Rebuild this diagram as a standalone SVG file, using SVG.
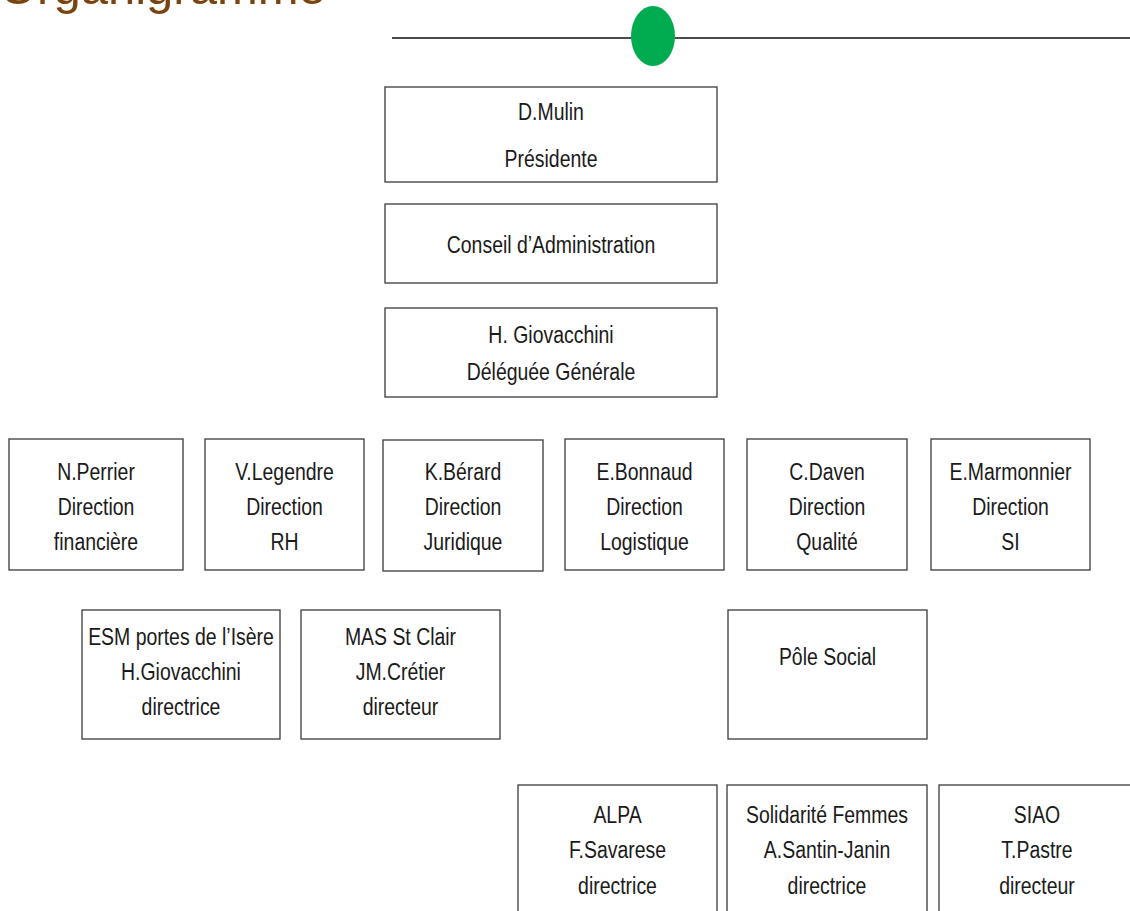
<svg xmlns="http://www.w3.org/2000/svg" width="1130" height="911" viewBox="0 0 1130 911">
<style>
.box{fill:#ffffff;stroke:#3a3a3a;stroke-width:1.3}
.t{font-family:"Liberation Sans",Arial,sans-serif;font-size:24px;fill:#1a1a1a;text-anchor:middle}
.title{font-family:"Liberation Sans",Arial,sans-serif;font-size:49px;fill:#7a4410}
</style>
<rect width="1130" height="911" fill="#ffffff"/>
<text class="title" x="-1" y="4">Organigramme</text>
<line x1="392" y1="38" x2="1130" y2="38" stroke="#111" stroke-width="1.5"/>
<ellipse cx="653" cy="36" rx="22" ry="30" fill="#00ac4f"/>
<g id="connectors"></g>

<g id="n-mulin">
<rect class="box" x="385" y="87" width="332" height="95"/>
<text class="t" transform="translate(551,120) scale(0.81,1)">D.Mulin</text>
<text class="t" transform="translate(551,167) scale(0.81,1)">Présidente</text>
</g>
<g id="n-conseil">
<rect class="box" x="385" y="204" width="332" height="79"/>
<text class="t" transform="translate(551,253) scale(0.81,1)">Conseil d’Administration</text>
</g>
<g id="n-giovacchini">
<rect class="box" x="385" y="308" width="332" height="89"/>
<text class="t" transform="translate(551,343) scale(0.81,1)">H. Giovacchini</text>
<text class="t" transform="translate(551,380) scale(0.81,1)">Déléguée Générale</text>
</g>

<g id="n-perrier">
<rect class="box" x="9" y="439" width="174" height="131"/>
<text class="t" transform="translate(96,480) scale(0.81,1)">N.Perrier</text>
<text class="t" transform="translate(96,515) scale(0.81,1)">Direction</text>
<text class="t" transform="translate(96,550) scale(0.81,1)">financière</text>
</g>
<g id="n-legendre">
<rect class="box" x="205" y="439" width="159" height="131"/>
<text class="t" transform="translate(284.5,480) scale(0.81,1)">V.Legendre</text>
<text class="t" transform="translate(284.5,515) scale(0.81,1)">Direction</text>
<text class="t" transform="translate(284.5,550) scale(0.81,1)">RH</text>
</g>
<g id="n-berard">
<rect class="box" x="383" y="440" width="160" height="131"/>
<text class="t" transform="translate(463,480) scale(0.81,1)">K.Bérard</text>
<text class="t" transform="translate(463,515) scale(0.81,1)">Direction</text>
<text class="t" transform="translate(463,550) scale(0.81,1)">Juridique</text>
</g>
<g id="n-bonnaud">
<rect class="box" x="565" y="439" width="159" height="131"/>
<text class="t" transform="translate(644.5,480) scale(0.81,1)">E.Bonnaud</text>
<text class="t" transform="translate(644.5,515) scale(0.81,1)">Direction</text>
<text class="t" transform="translate(644.5,550) scale(0.81,1)">Logistique</text>
</g>
<g id="n-daven">
<rect class="box" x="747" y="439" width="160" height="131"/>
<text class="t" transform="translate(827,480) scale(0.81,1)">C.Daven</text>
<text class="t" transform="translate(827,515) scale(0.81,1)">Direction</text>
<text class="t" transform="translate(827,550) scale(0.81,1)">Qualité</text>
</g>
<g id="n-marmonnier">
<rect class="box" x="931" y="439" width="159" height="131"/>
<text class="t" transform="translate(1010.5,480) scale(0.81,1)">E.Marmonnier</text>
<text class="t" transform="translate(1010.5,515) scale(0.81,1)">Direction</text>
<text class="t" transform="translate(1010.5,550) scale(0.81,1)">SI</text>
</g>

<g id="n-esm">
<rect class="box" x="82" y="610" width="198" height="129"/>
<text class="t" transform="translate(181,645) scale(0.81,1)">ESM portes de l’Isère</text>
<text class="t" transform="translate(181,680) scale(0.81,1)">H.Giovacchini</text>
<text class="t" transform="translate(181,715) scale(0.81,1)">directrice</text>
</g>
<g id="n-mas">
<rect class="box" x="301" y="610" width="199" height="129"/>
<text class="t" transform="translate(400.5,645) scale(0.81,1)">MAS St Clair</text>
<text class="t" transform="translate(400.5,680) scale(0.81,1)">JM.Crétier</text>
<text class="t" transform="translate(400.5,715) scale(0.81,1)">directeur</text>
</g>
<g id="n-pole">
<rect class="box" x="728" y="610" width="199" height="129"/>
<text class="t" transform="translate(827.5,665) scale(0.81,1)">Pôle Social</text>
</g>

<g id="n-alpa">
<rect class="box" x="518" y="785" width="199" height="140"/>
<text class="t" transform="translate(617.5,823) scale(0.81,1)">ALPA</text>
<text class="t" transform="translate(617.5,858) scale(0.81,1)">F.Savarese</text>
<text class="t" transform="translate(617.5,894) scale(0.81,1)">directrice</text>
</g>
<g id="n-solidarite">
<rect class="box" x="727" y="785" width="200" height="140"/>
<text class="t" transform="translate(827,823) scale(0.81,1)">Solidarité Femmes</text>
<text class="t" transform="translate(827,858) scale(0.81,1)">A.Santin-Janin</text>
<text class="t" transform="translate(827,894) scale(0.81,1)">directrice</text>
</g>
<g id="n-siao">
<rect class="box" x="939" y="785" width="199" height="140"/>
<text class="t" transform="translate(1037,823) scale(0.81,1)">SIAO</text>
<text class="t" transform="translate(1037,858) scale(0.81,1)">T.Pastre</text>
<text class="t" transform="translate(1037,894) scale(0.81,1)">directeur</text>
</g>
</svg>
